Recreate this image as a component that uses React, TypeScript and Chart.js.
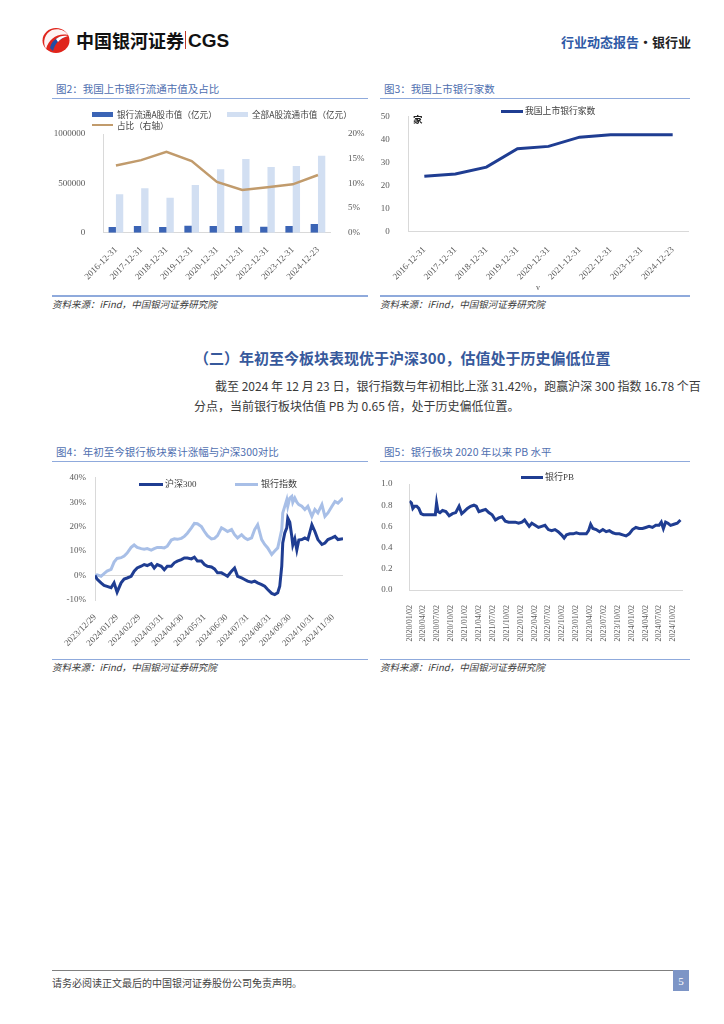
import React, { useEffect, useRef } from 'react';
import { Chart, registerables } from 'chart.js';

Chart.register(...registerables);

// ---------- Figure 2: market value of listed banks and share ----------
const fig2Dates = ['2016-12-31', '2017-12-31', '2018-12-31', '2019-12-31', '2020-12-31', '2021-12-31', '2022-12-31', '2023-12-31', '2024-12-23'];
const fig2BankCap = [58000, 68000, 58000, 71000, 68000, 68000, 61000, 68000, 88000];
const fig2TotalCap = [389000, 450000, 355000, 483000, 642000, 747000, 666000, 676000, 780000];
const fig2Ratio = [13.6, 14.7, 16.4, 14.5, 10.3, 8.65, 9.2, 9.8, 11.7];

// ---------- Figure 3: number of listed banks ----------
const fig3Dates = ['2016-12-31', '2017-12-31', '2018-12-31', '2019-12-31', '2020-12-31', '2021-12-31', '2022-12-31', '2023-12-31', '2024-12-23'];
const fig3Count = [24, 25, 28, 36, 37, 41, 42, 42, 42];

// ---------- Figure 4: YTD cumulative return, bank index vs CSI 300 (%) ----------
const fig4Day = [0, 2, 6, 9, 12, 16, 19, 22, 26, 29, 32, 36, 39, 42, 46, 49, 52, 56, 59, 62, 66, 69, 72, 76, 79, 82, 86, 89, 92, 96, 99, 102, 106, 109, 112, 116, 119, 122, 126, 129, 132, 136, 139, 142, 146, 149, 152, 156, 159, 162, 166, 169, 172, 176, 179, 182, 184, 186, 187, 189, 191, 192, 194, 196, 197, 199, 201, 203, 206, 209, 212, 216, 219, 222, 226, 229, 232, 236, 239, 242, 247];
const fig4Hs300 = [0, -1.4, -3, -4, -4.4, -5, -3, -6.8, -3, -1.4, -1, -0.3, 1.8, 3.1, 3.8, 4.5, 4.1, 4.9, 3.1, 4.5, 3.8, 2.4, 3.8, 3.8, 5.2, 5.9, 6.5, 7.2, 7.2, 6.8, 7.5, 5.9, 5.9, 4.5, 3.8, 3.5, 2.7, 1.1, 1.1, 0.4, -0.3, 1.8, 3.1, -0.3, -1, -1.6, -2.3, -2.7, -2.3, -3, -3.7, -4.4, -5.7, -7.3, -7.8, -7, -4.4, 3.8, 13.3, 17.4, 19.5, 23.5, 21.8, 16, 12.5, 15, 10.5, 14.5, 14.7, 15.4, 14.7, 20.8, 18, 14.7, 12.7, 13.3, 14.7, 15.4, 16, 14.7, 15];
const fig4Bank = [0, 0.3, -0.3, 0.8, 1.8, 2.5, 5.5, 7, 7.3, 8, 9.2, 11.5, 12.5, 11.5, 11, 10.8, 11, 10.4, 11, 11.5, 11.5, 11.3, 12, 14.5, 15, 14.8, 15.2, 16, 17.3, 19.5, 21.3, 21.2, 20, 18, 16.3, 15, 15.2, 16.3, 19.5, 18.8, 18, 18.8, 16.7, 15.4, 16.7, 15.4, 14.7, 15.4, 18.8, 20.8, 14.7, 12.7, 11.3, 8.6, 10, 11.3, 15, 18.8, 25.6, 28.3, 31, 28.3, 31.7, 32.4, 29.9, 31.7, 30, 29, 28.3, 27, 28.3, 24.2, 27, 25.6, 29, 24.2, 25.6, 28.3, 30.3, 29.6, 31.7];
const fig4TickDay = [0, 22, 44, 67, 87, 109, 131, 152, 174, 194, 217, 237];
const fig4TickLabel = ['2023/12/29', '2024/01/29', '2024/02/29', '2024/03/31', '2024/04/30', '2024/05/31', '2024/06/30', '2024/07/31', '2024/08/31', '2024/09/30', '2024/10/31', '2024/11/30'];

// ---------- Figure 5: bank sector PB since 2020 (x in quarters from 2020/01/02) ----------
const fig5Quarter = [0, 0.14, 0.24, 0.36, 0.52, 0.67, 0.83, 1.0, 1.19, 1.43, 1.67, 1.86, 1.95, 2.05, 2.19, 2.38, 2.62, 2.86, 3.1, 3.33, 3.57, 3.76, 3.93, 4.17, 4.4, 4.64, 4.81, 5.0, 5.24, 5.48, 5.71, 5.95, 6.19, 6.43, 6.67, 6.9, 7.14, 7.38, 7.62, 7.86, 8.1, 8.29, 8.45, 8.62, 8.81, 9.05, 9.29, 9.52, 9.76, 10.0, 10.24, 10.48, 10.71, 10.95, 11.14, 11.31, 11.55, 11.79, 12.02, 12.26, 12.5, 12.74, 12.9, 13.05, 13.21, 13.45, 13.69, 13.93, 14.17, 14.4, 14.64, 14.88, 15.12, 15.36, 15.6, 15.83, 16.07, 16.31, 16.55, 16.79, 17.02, 17.26, 17.5, 17.74, 17.98, 18.14, 18.29, 18.45, 18.62, 18.81, 19.05, 19.29, 19.52];
const fig5PB = [0.84, 0.82, 0.77, 0.79, 0.79, 0.77, 0.72, 0.71, 0.71, 0.71, 0.71, 0.71, 0.82, 0.74, 0.73, 0.75, 0.74, 0.7, 0.72, 0.73, 0.79, 0.72, 0.74, 0.77, 0.79, 0.8, 0.79, 0.74, 0.75, 0.76, 0.73, 0.71, 0.66, 0.68, 0.69, 0.65, 0.64, 0.64, 0.64, 0.63, 0.64, 0.66, 0.63, 0.6, 0.63, 0.61, 0.59, 0.6, 0.61, 0.57, 0.56, 0.57, 0.55, 0.52, 0.49, 0.52, 0.53, 0.53, 0.54, 0.53, 0.53, 0.53, 0.56, 0.62, 0.58, 0.57, 0.55, 0.57, 0.55, 0.56, 0.54, 0.53, 0.53, 0.52, 0.51, 0.53, 0.57, 0.59, 0.58, 0.58, 0.59, 0.6, 0.59, 0.61, 0.61, 0.64, 0.58, 0.64, 0.63, 0.61, 0.62, 0.63, 0.66];
const fig5TickLabel = ['2020/01/02', '2020/04/02', '2020/07/02', '2020/10/02', '2021/01/02', '2021/04/02', '2021/07/02', '2021/10/02', '2022/01/02', '2022/04/02', '2022/07/02', '2022/10/02', '2023/01/02', '2023/04/02', '2023/07/02', '2023/10/02', '2024/01/02', '2024/04/02', '2024/07/02', '2024/10/02'];

// ---------- styles ----------
const NUM_FONT = '"Liberation Serif", "Noto Sans CJK SC", serif';
const CJK_FONT = '"Noto Sans CJK SC", "Liberation Serif", sans-serif';
const AXIS_GREY = '#d9d9d9';
const TICK_COLOR = '#595959';
const NAVY = '#1f3d92';
const LIGHT_BLUE = '#a8bfe7';
const TITLE_BLUE = '#4f6fb0';
const RULE_BLUE = '#8faadc';

const tickFont = (size: number) => ({ family: NUM_FONT, size });

function baseOptions(padding: any) {
  return {
    animation: false,
    responsive: false,
    maintainAspectRatio: false,
    layout: { padding },
    plugins: { legend: { display: false }, tooltip: { enabled: false } },
    elements: { point: { radius: 0 }, line: { tension: 0 } },
  };
}

function fig2Config(): any {
  return {
    type: 'bar',
    data: {
      labels: fig2Dates,
      datasets: [
        { type: 'line', label: '占比（右轴）', data: fig2Ratio, yAxisID: 'y1', borderColor: '#c19b6c', borderWidth: 2.5, pointRadius: 0, order: 0 },
        { type: 'bar', label: '银行流通A股市值（亿元）', data: fig2BankCap, yAxisID: 'y', backgroundColor: '#3b64b5', barPercentage: 1, categoryPercentage: 0.58, order: 1 },
        { type: 'bar', label: '全部A股流通市值（亿元）', data: fig2TotalCap, yAxisID: 'y', backgroundColor: '#d2dff2', barPercentage: 1, categoryPercentage: 0.58, order: 1 },
      ],
    },
    options: {
      ...baseOptions({ top: 34, left: 0, right: 0, bottom: 0 }),
      scales: {
        x: {
          grid: { display: false },
          border: { color: AXIS_GREY },
          ticks: { font: tickFont(9), color: TICK_COLOR, minRotation: 45, maxRotation: 45, autoSkip: false, padding: 4 },
          afterFit: (s: any) => { s.height = 62.3; },
        },
        y: {
          position: 'left', min: 0, max: 1000000,
          grid: { display: false },
          border: { color: AXIS_GREY },
          ticks: { stepSize: 500000, font: tickFont(9), color: TICK_COLOR, padding: 10, callback: (v: any) => String(v) },
          afterFit: (s: any) => { s.width = 51.3; },
        },
        y1: {
          position: 'right', min: 0, max: 20,
          grid: { display: false },
          border: { display: false },
          ticks: { stepSize: 5, font: tickFont(9), color: TICK_COLOR, padding: 9.5, callback: (v: any) => v + '%' },
          afterFit: (s: any) => { s.width = 37.4; },
        },
      },
    },
  };
}

function fig3Config(): any {
  return {
    type: 'line',
    data: {
      labels: fig3Dates,
      datasets: [{ label: '我国上市银行家数', data: fig3Count, borderColor: NAVY, borderWidth: 3, pointRadius: 0 }],
    },
    options: {
      ...baseOptions({ top: 15.7, left: 0, right: 1.8, bottom: 0 }),
      scales: {
        x: {
          offset: true,
          grid: { display: false },
          border: { color: AXIS_GREY },
          ticks: { font: tickFont(9), color: TICK_COLOR, minRotation: 45, maxRotation: 45, autoSkip: false, padding: 5 },
          afterFit: (s: any) => { s.height = 63.3; },
        },
        y: {
          min: 0, max: 50,
          grid: { display: false },
          border: { color: AXIS_GREY },
          ticks: { stepSize: 10, font: tickFont(9), color: TICK_COLOR, padding: 11 },
          afterFit: (s: any) => { s.width = 28.8; },
        },
      },
    },
  };
}

function fig4Config(): any {
  return {
    type: 'line',
    data: {
      datasets: [
        { label: '沪深300', data: fig4Day.map((d, i) => ({ x: d, y: fig4Hs300[i] })), borderColor: NAVY, borderWidth: 3, pointRadius: 0, order: 0 },
        { label: '银行指数', data: fig4Day.map((d, i) => ({ x: d, y: fig4Bank[i] })), borderColor: LIGHT_BLUE, borderWidth: 3, pointRadius: 0, order: 1 },
      ],
    },
    options: {
      ...baseOptions({ top: 15.7, left: 0, right: 25, bottom: 0 }),
      scales: {
        x: {
          type: 'linear', min: 0, max: 247,
          grid: { display: false },
          border: { display: false },
          afterBuildTicks: (s: any) => { s.ticks = fig4TickDay.map((v) => ({ value: v })); },
          ticks: { font: tickFont(9), color: TICK_COLOR, minRotation: 45, maxRotation: 45, autoSkip: false, padding: 4, callback: (_v: any, i: number) => fig4TickLabel[i] },
          afterFit: (s: any) => { s.height = 58; },
        },
        y: {
          min: -10, max: 40,
          grid: { drawTicks: false, color: (ctx: any) => (ctx.tick && ctx.tick.value === 0 ? AXIS_GREY : 'rgba(0,0,0,0)') },
          border: { color: AXIS_GREY },
          ticks: { stepSize: 10, font: tickFont(9), color: TICK_COLOR, padding: 9, callback: (v: any) => v + '%' },
          afterFit: (s: any) => { s.width = 43; },
        },
      },
    },
  };
}

function fig5Config(): any {
  return {
    type: 'line',
    data: {
      datasets: [{ label: '银行PB', data: fig5Quarter.map((q, i) => ({ x: q, y: fig5PB[i] })), borderColor: NAVY, borderWidth: 3, pointRadius: 0 }],
    },
    options: {
      ...baseOptions({ top: 22, left: 0, right: 5, bottom: 0 }),
      scales: {
        x: {
          type: 'linear', min: 0, max: 19.65,
          grid: { display: false },
          border: { color: AXIS_GREY },
          afterBuildTicks: (s: any) => { s.ticks = fig5TickLabel.map((_l, i) => ({ value: i })); },
          ticks: { font: tickFont(8), color: TICK_COLOR, minRotation: 90, maxRotation: 90, autoSkip: false, padding: 7, callback: (_v: any, i: number) => fig5TickLabel[i] },
          afterFit: (s: any) => { s.height = 68; },
        },
        y: {
          min: 0, max: 1,
          grid: { display: false },
          border: { color: AXIS_GREY },
          ticks: { stepSize: 0.2, font: tickFont(9), color: TICK_COLOR, padding: 9, callback: (v: any) => Number(v).toFixed(1) },
          afterFit: (s: any) => { s.width = 29.5; },
        },
      },
    },
  };
}

function ChartBox({ left, top, width, height, build }: any) {
  const ref = useRef<HTMLCanvasElement>(null);
  useEffect(() => {
    const chart = new Chart(ref.current as HTMLCanvasElement, build());
    return () => chart.destroy();
  }, []);
  return (
    <canvas ref={ref} width={width} height={height}
      style={{ position: 'absolute', left, top, width, height, display: 'block' }} />
  );
}

function T({ x, cy, size, color = '#333', weight = 400, italic = false, family = CJK_FONT, right, children, style }: any) {
  const s: any = {
    position: 'absolute', top: cy - size, height: size * 2, display: 'flex', alignItems: 'center',
    fontSize: size, color, fontWeight: weight, fontStyle: italic ? 'italic' : 'normal', fontFamily: family,
    whiteSpace: 'nowrap', lineHeight: 1, ...style,
  };
  if (right !== undefined) s.right = right; else s.left = x;
  return <div style={s}>{children}</div>;
}

function Rect({ x, y, w, h, color }: any) {
  return <div style={{ position: 'absolute', left: x, top: y, width: w, height: h, background: color }} />;
}

function Panel({ x, w, titleY, title, ruleTop, bottomRule, sourceY }: any) {
  return (
    <>
      <T x={x + 4} cy={titleY} size={10.5} color={TITLE_BLUE}>{title}</T>
      <Rect x={x} y={ruleTop} w={w} h={1.6} color={RULE_BLUE} />
      <Rect x={x} y={bottomRule} w={w} h={1.6} color={RULE_BLUE} />
      <T x={x} cy={sourceY} size={9.5} italic color="#3a3a3a">资料来源：iFind，中国银河证券研究院</T>
    </>
  );
}

function LegendLine({ x, cy, w, color, thick = 3, text, textX }: any) {
  return (
    <>
      <Rect x={x} y={cy - thick / 2} w={w} h={thick} color={color} />
      <T x={textX} cy={cy} size={9} color="#404040" family={NUM_FONT}>{text}</T>
    </>
  );
}

export default function App() {
  return (
    <div style={{ position: 'absolute', left: 0, top: 0, width: 724, height: 1024, background: '#fff', overflow: 'hidden' }}>
      {/* header */}
      <svg width="30" height="27" viewBox="0 0 30 27" style={{ position: 'absolute', left: 41, top: 27 }}>
        <ellipse cx="15" cy="13.5" rx="13.5" ry="12.5" fill="#e0241b" />
        <path d="M5 22 C 8 12, 16 6, 27 8 C 24 3, 17 1, 11 3 C 4 6, 1 15, 5 22 Z" fill="#fff" opacity="0.95" />
        <path d="M9 21 C 11 13, 17 9, 24 10 C 19 12, 14 16, 12 24 Z" fill="#1f4ea3" />
        <path d="M15 12 C 18 9, 23 8, 27 9 C 23 10, 19 12, 17 15 Z" fill="#fff" />
      </svg>
      <T x={76} cy={40} size={18} weight={700} color="#111">中国银河证券</T>
      <Rect x={184.5} y={31} w={1.3} h={18} color="#c0392b" />
      <T x={188} cy={40.5} size={19} weight={700} color="#111" family='"Liberation Sans", Arial, sans-serif'>CGS</T>
      <T right={33} cy={41} size={13} weight={700} color="#2f5aa6">
        行业动态报告<span style={{ color: '#222' }}>·银行业</span>
      </T>

      {/* Figure 2 */}
      <Panel x={52} w={316} titleY={89} title="图2：我国上市银行流通市值及占比" ruleTop={97.5} bottomRule={295} sourceY={305} />
      <ChartBox left={52} top={100} width={316} height={195} build={fig2Config} />
      <Rect x={92} y={111.5} w={21} h={5.5} color="#3b64b5" />
      <T x={117} cy={114.3} size={8.6} color="#404040">银行流通A股市值（亿元）</T>
      <Rect x={227} y={111.5} w={21} h={5.5} color="#d2dff2" />
      <T x={252} cy={114.3} size={8.6} color="#404040">全部A股流通市值（亿元）</T>
      <Rect x={92} y={123.8} w={21} h={2.6} color="#c19b6c" />
      <T x={117} cy={125} size={8.6} color="#404040">占比（右轴）</T>

      {/* Figure 3 */}
      <Panel x={380} w={310} titleY={89} title="图3：我国上市银行家数" ruleTop={97.5} bottomRule={295} sourceY={305} />
      <ChartBox left={380} top={100} width={310} height={195} build={fig3Config} />
      <Rect x={501} y={110.2} w={22} h={3} color={NAVY} />
      <T x={525} cy={111.7} size={8.8} color="#404040">我国上市银行家数</T>
      <T x={413} cy={119.5} size={9.5} weight={700} color="#222">家</T>
      <T x={536} cy={287.5} size={8} color="#595959" family={NUM_FONT}>v</T>

      {/* section heading + paragraph */}
      <T x={194} cy={357} size={15} weight={700} color="#37599c">（二）年初至今板块表现优于沪深300，估值处于历史偏低位置</T>
      <div style={{ position: 'absolute', left: 215, top: 378, width: 475, fontSize: 12, lineHeight: '16px', color: '#3a3a3a', fontFamily: CJK_FONT, textAlign: 'justify', textAlignLast: 'justify', whiteSpace: 'nowrap' } as any}>
        截至 2024 年 12 月 23 日，银行指数与年初相比上涨 31.42%，跑赢沪深 300 指数 16.78 个百
      </div>
      <T x={194} cy={406} size={12} color="#3a3a3a">分点，当前银行板块估值 PB 为 0.65 倍，处于历史偏低位置。</T>

      {/* Figure 4 */}
      <Panel x={52} w={316} titleY={452} title="图4：年初至今银行板块累计涨幅与沪深300对比" ruleTop={460.5} bottomRule={658.5} sourceY={668} />
      <ChartBox left={52} top={462} width={316} height={196} build={fig4Config} />
      <LegendLine x={139} cy={484.3} w={24} color={NAVY} text="沪深300" textX={165} />
      <LegendLine x={235} cy={484.3} w={23} color={LIGHT_BLUE} text="银行指数" textX={261} />

      {/* Figure 5 */}
      <Panel x={380} w={310} titleY={452} title="图5：银行板块 2020 年以来 PB 水平" ruleTop={460.5} bottomRule={658.5} sourceY={668} />
      <ChartBox left={380} top={462} width={310} height={196} build={fig5Config} />
      <LegendLine x={521} cy={477.7} w={22} color={NAVY} text="银行PB" textX={545} />

      {/* footer */}
      <Rect x={52} y={969.5} w={621} h={1} color="#7f7f7f" />
      <T x={52} cy={982.5} size={10} color="#444">请务必阅读正文最后的中国银河证券股份公司免责声明。</T>
      <div style={{ position: 'absolute', left: 673, top: 970, width: 16, height: 21, background: '#7d95c6', color: '#fff', fontSize: 11, fontFamily: NUM_FONT, display: 'flex', alignItems: 'center', justifyContent: 'center' }}>5</div>
    </div>
  );
}
